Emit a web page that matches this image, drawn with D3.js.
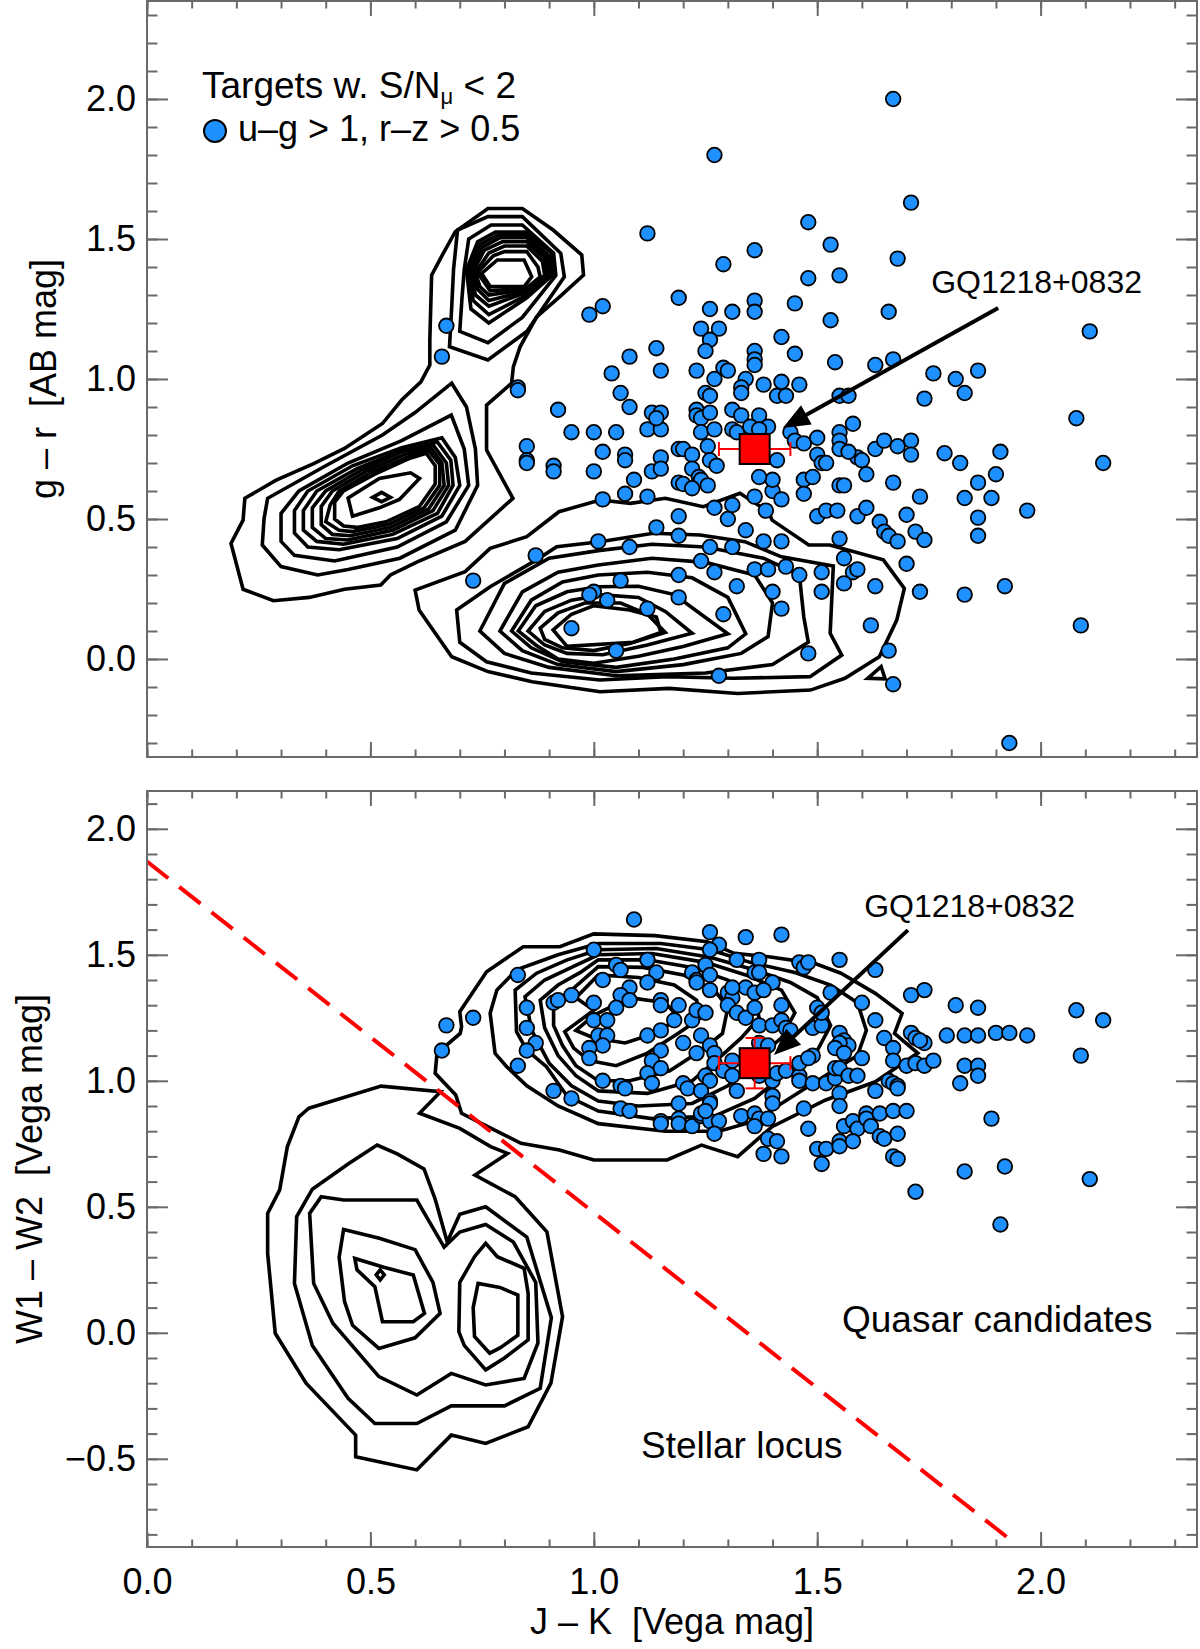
<!DOCTYPE html>
<html><head><meta charset="utf-8">
<script src="https://cdn.jsdelivr.net/npm/d3@7"></script>
<style>
body{margin:0;background:#fff;}
svg{display:block;}
text{font-family:"Liberation Sans",Arial,Helvetica,sans-serif;fill:#000;white-space:pre;}
</style>
</head><body>
<svg id="chart" width="1200" height="1649"></svg>
<script>
// ---------------- DATA ----------------
const xTickValues = [0, 0.5, 1.0, 1.5, 2.0];
const xTickLabels = ["0.0", "0.5", "1.0", "1.5", "2.0"];
const topYTickValues = [0, 0.5, 1.0, 1.5, 2.0];
const topYTickLabels = ["0.0", "0.5", "1.0", "1.5", "2.0"];
const botYTickValues = [-0.5, 0, 0.5, 1.0, 1.5, 2.0];
const botYTickLabels = ["\u22120.5", "0.0", "0.5", "1.0", "1.5", "2.0"];

const xTitle = "J \u2013 K \u00a0[Vega mag]";
const topYTitle = "g \u2013 r \u00a0[AB mag]";
const botYTitle = "W1 \u2013 W2 \u00a0[Vega mag]";
const legendTitle = ["Targets w. S/N", "\u03bc", " < 2"];
const legendLabel = "u\u2013g > 1, r\u2013z > 0.5";
const regionLabels = ["Quasar candidates", "Stellar locus"];

// target: [value, error]
const targetName = "GQ1218+0832";
const targetJK = [1.36, 0.08];
const targetGR = [0.75, 0.03];
const targetW12 = [1.07, 0.10];

// annotation arrows [tail, tip] in data units
const topArrow = [[1.905, 1.254], [1.423, 0.825]];
const botArrow = [[1.703, 1.598], [1.403, 1.102]];
const topLabelAt = [1.755, 1.307];
const botLabelAt = [1.605, 1.650];

// colour cut line in bottom panel
const cutLine = [[0, 1.87], [1.935, -0.825]];

// scatter points: J-K vs g-r
const topPoints = [
[1.67,2.00],[1.27,1.80],[1.71,1.63],[1.12,1.52],[1.48,1.56],[1.53,1.48],[1.36,1.46],[1.29,1.41],[1.68,1.43],[1.48,1.36],[1.55,1.37],[1.19,1.29],[1.26,1.25],[1.31,1.24],[1.36,1.28],[1.36,1.24],[1.45,1.27],[1.53,1.21],[1.66,1.24],[2.11,1.17],[1.02,1.26],[0.99,1.23],
[1.24,1.18],[1.28,1.18],[1.26,1.14],[1.25,1.10],[1.14,1.11],[1.08,1.08],[1.42,1.15],[1.36,1.10],[1.36,1.07],[1.36,1.05],[1.45,1.09],[1.04,1.02],[1.15,1.03],[1.23,1.03],[1.29,1.04],[1.30,1.03],[1.27,1.00],[1.34,1.00],[1.54,1.06],[1.63,1.05],[1.67,1.07],[1.76,1.02],[1.81,1.00],[1.86,1.03],[1.06,0.95],[1.25,0.95],[1.33,0.97],[1.33,0.95],[1.38,0.98],[1.42,0.99],[1.46,0.98],[1.41,0.94],[1.43,0.94],[1.26,0.94],[1.74,0.93],[1.83,0.95],[1.55,0.94],[1.57,0.94],
[0.67,1.19],[0.66,1.08],[0.83,0.97],[0.83,0.96],[0.92,0.89],[0.95,0.81],[1.00,0.81],[1.05,0.81],[0.85,0.76],[0.85,0.71],[0.85,0.70],[0.91,0.69],[0.91,0.67],[1.00,0.67],[1.02,0.74],[1.07,0.73],[1.07,0.71],[1.09,0.64],[1.02,0.57],[1.07,0.59],[1.12,0.58],[1.12,0.82],[1.14,0.87],[1.15,0.82],[1.15,0.72],[1.13,0.67],[1.15,0.68],[1.19,0.75],[1.19,0.63],[1.08,0.90],[1.13,0.88],[1.15,0.88],[1.14,0.86],
[0.87,0.37],[0.73,0.28],[1.01,0.42],[1.08,0.40],[1.14,0.47],[1.19,0.51],[1.19,0.44],[1.06,0.28],[1.00,0.24],[0.99,0.23],[1.03,0.21],[1.12,0.18],[0.95,0.11],[1.05,0.03],[1.19,0.30],[1.19,0.22],[1.24,0.35],[1.27,0.31],[1.32,0.26],[1.29,0.16],[1.28,-0.06],[1.31,0.40],[1.26,0.40],[1.30,0.50],[1.27,0.54],[1.31,0.55],[1.34,0.46],[1.38,0.42],[1.42,0.42],[1.36,0.32],[1.39,0.32],[1.43,0.33],[1.40,0.24],[1.42,0.18],[1.46,0.30],[1.51,0.31],[1.51,0.24],[1.48,0.02],[1.55,0.43],[1.56,0.36],[1.58,0.31],[1.56,0.27],[1.59,0.32],[1.63,0.26],[1.70,0.34],[1.73,0.24],[1.83,0.23],[1.92,0.26],[2.09,0.12],[1.62,0.12],[1.66,0.03],[1.67,-0.09],[1.93,-0.30],
[1.36,0.58],[1.40,0.60],[1.42,0.57],[1.385,0.53],[1.40,0.64],[1.37,0.65],[1.47,0.64],[1.49,0.65],[1.47,0.59],[1.50,0.51],[1.52,0.53],[1.545,0.53],[1.59,0.51],[1.61,0.54],[1.55,0.62],[1.56,0.62],[1.59,0.72],[1.60,0.71],[1.61,0.66],[1.63,0.75],[1.65,0.78],[1.68,0.76],[1.71,0.78],[1.71,0.73],[1.67,0.63],[1.64,0.49],[1.65,0.455],[1.66,0.44],[1.68,0.42],[1.70,0.515],[1.72,0.455],[1.74,0.425],[1.73,0.58],[1.785,0.735],[1.82,0.70],[1.83,0.575],[1.86,0.63],[1.86,0.505],[1.86,0.44],[1.91,0.74],[1.90,0.66],[1.89,0.575],[1.97,0.53],[2.08,0.86],[2.14,0.70],
[1.23,0.89],[1.23,0.87],[1.24,0.86],[1.26,0.88],[1.24,0.81],[1.27,0.82],[1.20,0.75],[1.22,0.73],[1.255,0.76],[1.26,0.71],[1.275,0.69],[1.22,0.68],[1.235,0.65],[1.24,0.64],[1.20,0.625],[1.22,0.61],[1.255,0.62],[1.31,0.89],[1.33,0.87],[1.31,0.82],[1.32,0.81],[1.37,0.87],[1.39,0.83],[1.35,0.83],[1.37,0.82],[1.41,0.71],[1.44,0.81],[1.45,0.78],[1.47,0.77],[1.50,0.79],[1.50,0.73],[1.51,0.70],[1.52,0.70],[1.55,0.81],[1.55,0.78],[1.55,0.75],[1.57,0.74],[1.58,0.84]
];

// scatter points: J-K vs W1-W2
const botPoints = [
[1.09,1.64],[0.67,1.22],[0.73,1.25],[0.66,1.12],[0.83,1.42],[1.00,1.52],
[0.85,1.29],[0.85,1.21],[0.87,1.15],[0.85,1.12],[0.83,1.06],
[0.91,1.31],[0.92,1.32],[0.95,1.34],[0.91,0.96],[0.95,0.93],
[1.00,1.31],[1.00,1.24],[1.03,1.24],[1.01,1.18],[1.03,1.18],[1.02,1.14],[0.99,1.13],[0.99,1.09],
[1.02,1.40],[1.05,1.46],[1.06,1.44],[1.08,1.37],[1.06,1.34],[1.08,1.32],[1.05,1.29],
[1.02,1.00],[1.06,0.98],[1.07,0.97],[1.06,0.89],[1.08,0.88],
[1.12,1.48],[1.14,1.43],[1.12,1.39],[1.15,1.32],[1.15,1.30],[1.19,1.30],[1.18,1.24],
[1.12,1.18],[1.15,1.20],[1.15,1.12],[1.13,1.08],[1.15,1.05],[1.12,1.03],[1.13,0.99],
[1.19,0.91],[1.20,0.99],[1.21,0.97],[1.15,0.84],[1.15,0.83],[1.19,0.85],[1.19,0.83],[1.22,0.82],[1.24,0.86],
[1.20,1.15],[1.22,1.43],[1.23,1.40],[1.23,1.11],
[1.26,1.59],[1.28,1.54],[1.26,1.52],[1.34,1.57],[1.42,1.58],[1.55,1.48],[1.63,1.44],
[1.46,1.47],[1.47,1.45],[1.48,1.47],[1.32,1.48],[1.37,1.48],[1.36,1.43],[1.37,1.43],[1.40,1.39],
[1.25,1.46],[1.23,1.39],[1.26,1.42],
[1.26,1.36],[1.30,1.35],[1.31,1.33],[1.34,1.37],[1.31,1.37],[1.36,1.35],[1.38,1.36],
[1.22,1.24],[1.23,1.28],[1.25,1.27],
[1.30,1.30],[1.32,1.27],[1.34,1.25],[1.36,1.29],[1.42,1.30],[1.37,1.22],[1.40,1.22],
[1.42,1.24],[1.43,1.21],[1.44,1.20],
[1.24,1.18],[1.26,1.14],[1.27,1.11],
[1.27,1.07],[1.29,1.04],[1.31,1.08],[1.31,1.02],[1.32,0.96],[1.25,1.02],[1.26,1.00],[1.24,0.96],[1.26,0.92],
[1.24,0.87],[1.26,0.91],[1.26,0.84],[1.28,0.84],[1.27,0.79],[1.25,0.88],
[1.33,0.86],[1.36,0.87],[1.37,0.85],[1.36,0.82],[1.39,0.85],
[1.39,0.77],[1.41,0.76],[1.38,0.71],[1.42,0.70],
[1.40,0.94],[1.40,0.91],[1.40,1.00],[1.37,1.02],
[1.37,1.15],[1.39,1.14],
[1.41,1.03],[1.43,1.04],[1.46,1.02],[1.46,1.00],
[1.46,1.07],[1.49,1.10],[1.48,1.09],
[1.49,1.21],[1.51,1.22],[1.50,1.29],[1.51,1.27],[1.53,1.35],
[1.47,0.89],[1.48,0.81],[1.50,0.73],[1.52,0.73],[1.51,0.67],
[1.49,0.99],[1.52,0.99],[1.54,1.01],[1.55,0.95],[1.55,0.90],
[1.56,0.82],[1.58,0.84],[1.59,0.81],[1.61,0.87],[1.61,0.85],[1.62,0.82],[1.64,0.87],[1.67,0.88],[1.70,0.88],
[1.64,0.78],[1.65,0.77],[1.68,0.79],[1.55,0.76],[1.55,0.74],[1.58,0.76],[1.67,0.70],[1.68,0.69],
[1.72,0.56],[1.83,0.64],[1.92,0.66],[2.11,0.61],[1.89,0.85],[1.91,0.43],
[1.82,0.99],[1.83,1.06],[1.86,1.06],[1.86,1.02],[2.09,1.10],[2.08,1.28],[2.14,1.24],
[1.79,1.18],[1.83,1.18],[1.86,1.18],[1.90,1.19],[1.93,1.19],[1.97,1.18],
[1.81,1.30],[1.86,1.29],[1.71,1.34],[1.74,1.36],[1.60,1.31],[1.63,1.24],
[1.65,1.17],[1.67,1.13],[1.67,1.08],[1.71,1.19],[1.72,1.17],[1.74,1.15],[1.73,1.16],
[1.70,1.06],[1.72,1.07],[1.74,1.06],[1.76,1.08],[1.60,1.09],
[1.55,1.19],[1.56,1.16],[1.57,1.14],[1.55,1.15],[1.54,1.13],[1.56,1.11],
[1.54,1.05],[1.55,1.05],[1.57,1.02],[1.59,1.02],
[1.66,1.00],[1.67,0.99],[1.68,0.98],[1.63,0.96],[1.68,0.97]
];

// density contours (closed rings) of the reference samples, top panel
const topContours = [
[[0.215,0.249],[0.188,0.413],[0.215,0.496],[0.219,0.574],[0.288,0.638],[0.373,0.698],[0.442,0.752],[0.527,0.841],[0.570,0.925],[0.613,0.99],[0.633,1.05],[0.633,1.139],[0.637,1.371],[0.663,1.449],[0.690,1.526],[0.763,1.609],[0.840,1.609],[0.909,1.532],[0.973,1.443],[0.977,1.371],[0.924,1.294],[0.872,1.222],[0.835,1.115],[0.820,1.044],[0.816,0.985],[0.760,0.907],[0.760,0.746],[0.819,0.574],[0.712,0.42],[0.605,0.347],[0.545,0.300],[0.523,0.264],[0.442,0.249],[0.363,0.220],[0.283,0.208]],
[[0.258,0.407],[0.262,0.502],[0.270,0.574],[0.40,0.69],[0.527,0.80],[0.60,0.88],[0.682,0.985],[0.715,0.90],[0.735,0.75],[0.740,0.62],[0.69,0.46],[0.566,0.36],[0.45,0.32],[0.382,0.30],[0.30,0.33]],
[[0.30,0.42],[0.30,0.52],[0.34,0.60],[0.45,0.70],[0.57,0.78],[0.681,0.871],[0.71,0.75],[0.72,0.62],[0.67,0.49],[0.56,0.40],[0.42,0.35],[0.33,0.37]],
[[0.33,0.45],[0.33,0.53],[0.36,0.60],[0.46,0.69],[0.57,0.755],[0.66,0.79],[0.69,0.72],[0.70,0.62],[0.66,0.51],[0.56,0.43],[0.43,0.39],[0.36,0.40]],
[[0.35,0.46],[0.35,0.53],[0.38,0.60],[0.47,0.68],[0.57,0.745],[0.65,0.775],[0.68,0.71],[0.685,0.62],[0.65,0.52],[0.55,0.445],[0.44,0.41],[0.38,0.42]],
[[0.37,0.47],[0.37,0.54],[0.40,0.60],[0.48,0.675],[0.57,0.74],[0.64,0.765],[0.67,0.70],[0.675,0.62],[0.64,0.53],[0.55,0.46],[0.45,0.425],[0.40,0.43]],
[[0.39,0.48],[0.39,0.545],[0.415,0.60],[0.49,0.67],[0.575,0.73],[0.635,0.755],[0.66,0.70],[0.665,0.62],[0.63,0.535],[0.545,0.47],[0.455,0.44],[0.415,0.445]],
[[0.40,0.49],[0.41,0.55],[0.43,0.60],[0.50,0.665],[0.58,0.72],[0.63,0.745],[0.655,0.695],[0.655,0.62],[0.62,0.54],[0.54,0.48],[0.46,0.455],[0.43,0.46]],
[[0.42,0.50],[0.42,0.56],[0.44,0.60],[0.51,0.66],[0.585,0.715],[0.625,0.735],[0.645,0.69],[0.645,0.625],[0.61,0.545],[0.535,0.49],[0.47,0.47],[0.44,0.475]],
[[0.45,0.575],[0.52,0.645],[0.59,0.665],[0.61,0.645],[0.565,0.57],[0.52,0.54],[0.46,0.51]],
[[0.505,0.577],[0.525,0.595],[0.545,0.577],[0.525,0.562]],
[[0.686,1.39],[0.695,1.532],[0.763,1.580],[0.840,1.580],[0.926,1.449],[0.934,1.365],[0.85,1.17],[0.763,1.068],[0.677,1.115],[0.682,1.258]],
[[0.71,1.39],[0.72,1.50],[0.77,1.55],[0.84,1.55],[0.91,1.45],[0.915,1.37],[0.84,1.22],[0.763,1.13],[0.70,1.17],[0.705,1.29]],
[[0.715,1.39],[0.74,1.49],[0.78,1.525],[0.85,1.525],[0.905,1.45],[0.91,1.375],[0.85,1.29],[0.765,1.20],[0.725,1.25]],
[[0.72,1.39],[0.745,1.48],[0.785,1.515],[0.85,1.515],[0.90,1.44],[0.905,1.375],[0.85,1.30],[0.765,1.23],[0.73,1.28]],
[[0.725,1.39],[0.75,1.47],[0.79,1.505],[0.85,1.505],[0.895,1.435],[0.90,1.375],[0.85,1.31],[0.765,1.26],[0.735,1.30]],
[[0.73,1.385],[0.755,1.46],[0.795,1.49],[0.85,1.49],[0.89,1.43],[0.895,1.375],[0.85,1.315],[0.765,1.28],[0.74,1.32]],
[[0.735,1.38],[0.765,1.45],[0.80,1.475],[0.85,1.475],[0.885,1.42],[0.89,1.37],[0.85,1.32],[0.765,1.30],[0.745,1.33]],
[[0.74,1.38],[0.775,1.44],[0.80,1.455],[0.85,1.455],[0.875,1.40],[0.88,1.365],[0.85,1.325],[0.768,1.315]],
[[0.749,1.377],[0.784,1.425],[0.844,1.425],[0.861,1.365],[0.844,1.330],[0.768,1.330]],
[[0.600,0.246],[0.609,0.175],[0.682,0.008],[0.763,-0.045],[0.862,-0.081],[1.014,-0.117],[1.168,-0.105],[1.322,-0.123],[1.485,-0.111],[1.562,-0.069],[1.639,0.008],[1.678,0.139],[1.695,0.252],[1.648,0.354],[1.528,0.407],[1.481,0.407],[1.399,0.496],[1.391,0.526],[1.327,0.592],[1.245,0.544],[1.160,0.574],[1.082,0.556],[1.014,0.568],[0.922,0.526],[0.850,0.437],[0.768,0.395],[0.712,0.312]],
[[0.693,0.175],[0.768,0.258],[0.872,0.354],[0.917,0.401],[1.014,0.419],[1.133,0.449],[1.238,0.443],[1.338,0.419],[1.420,0.365],[1.536,0.332],[1.529,0.092],[1.555,0.014],[1.484,-0.063],[1.312,-0.069],[1.163,-0.063],[1.014,-0.075],[0.86,-0.05],[0.76,-0.01],[0.70,0.06]],
[[0.745,0.10],[0.80,0.27],[0.90,0.36],[1.01,0.387],[1.13,0.41],[1.25,0.40],[1.38,0.36],[1.46,0.30],[1.47,0.15],[1.48,0.06],[1.40,-0.02],[1.25,-0.05],[1.05,-0.06],[0.90,-0.03],[0.80,0.02]],
[[0.790,0.10],[0.84,0.24],[0.92,0.31],[1.01,0.336],[1.13,0.36],[1.25,0.345],[1.36,0.30],[1.40,0.20],[1.39,0.08],[1.33,0.02],[1.20,-0.02],[1.05,-0.045],[0.92,-0.02],[0.84,0.03]],
[[0.816,0.10],[0.86,0.21],[0.93,0.275],[1.01,0.300],[1.12,0.31],[1.22,0.29],[1.30,0.22],[1.34,0.09],[1.30,0.04],[1.18,0.0],[1.05,-0.03],[0.93,-0.01],[0.86,0.04]],
[[0.831,0.10],[0.87,0.19],[0.94,0.24],[1.01,0.258],[1.10,0.26],[1.18,0.23],[1.24,0.16],[1.30,0.09],[1.20,0.045],[1.10,0.01],[1.00,-0.015],[0.92,0.0],[0.87,0.05]],
[[0.853,0.10],[0.89,0.17],[0.95,0.21],[1.02,0.229],[1.10,0.22],[1.16,0.17],[1.22,0.092],[1.12,0.05],[1.02,0.015],[0.94,0.02],[0.89,0.05]],
[[0.880,0.11],[0.92,0.165],[0.98,0.20],[1.06,0.20],[1.12,0.16],[1.16,0.095],[1.08,0.055],[1.00,0.03],[0.93,0.04],[0.89,0.07]],
[[0.909,0.104],[0.95,0.16],[0.999,0.19],[1.08,0.175],[1.14,0.15],[1.15,0.095],[1.088,0.06],[0.94,0.045]],
[[1.613,-0.069],[1.643,-0.027],[1.652,-0.071]]
];

// density contours, bottom panel
const botContours = [
[[0.645,1.030],[0.649,1.109],[0.701,1.188],[0.704,1.215],[0.700,1.274],[0.760,1.433],[0.842,1.532],[0.924,1.532],[1.000,1.583],[1.137,1.576],[1.254,1.552],[1.314,1.506],[1.391,1.492],[1.494,1.466],[1.553,1.427],[1.630,1.347],[1.690,1.268],[1.673,1.188],[1.725,1.11],[1.630,0.996],[1.519,0.924],[1.399,0.818],[1.322,0.699],[1.241,0.745],[1.164,0.686],[1.000,0.686],[0.923,0.725],[0.837,0.752],[0.777,0.805],[0.704,0.871],[0.691,0.944]],
[[0.779,1.109],[0.768,1.268],[0.783,1.360],[0.827,1.440],[0.92,1.50],[1.01,1.545],[1.15,1.545],[1.26,1.52],[1.35,1.47],[1.45,1.43],[1.53,1.38],[1.59,1.31],[1.61,1.20],[1.59,1.10],[1.50,1.00],[1.42,0.91],[1.36,0.84],[1.28,0.80],[1.16,0.80],[1.01,0.83],[0.92,0.90],[0.85,0.98],[0.805,1.056]],
[[0.827,1.195],[0.824,1.360],[0.872,1.427],[0.939,1.479],[1.01,1.52],[1.14,1.525],[1.26,1.49],[1.36,1.44],[1.44,1.39],[1.50,1.33],[1.53,1.22],[1.50,1.12],[1.43,1.03],[1.36,0.93],[1.27,0.86],[1.13,0.85],[1.01,0.88],[0.94,0.94],[0.894,1.056],[0.850,1.122]],
[[0.861,1.20],[0.846,1.334],[0.89,1.40],[0.95,1.45],[1.01,1.50],[1.13,1.505],[1.25,1.47],[1.34,1.42],[1.42,1.36],[1.45,1.27],[1.42,1.17],[1.36,1.08],[1.30,0.98],[1.22,0.91],[1.10,0.90],[1.01,0.92],[0.95,0.98],[0.90,1.07]],
[[0.89,1.21],[0.88,1.32],[0.92,1.38],[0.97,1.43],[1.01,1.48],[1.12,1.48],[1.22,1.45],[1.30,1.40],[1.36,1.33],[1.37,1.25],[1.33,1.17],[1.28,1.09],[1.22,1.00],[1.12,0.95],[1.01,0.96],[0.96,1.02],[0.92,1.10]],
[[0.91,1.22],[0.91,1.31],[0.95,1.36],[1.01,1.453],[1.11,1.45],[1.20,1.42],[1.27,1.36],[1.30,1.29],[1.288,1.188],[1.24,1.12],[1.17,1.04],[1.08,1.00],[1.01,1.00],[0.96,1.06],[0.93,1.14]],
[[0.935,1.195],[1.00,1.28],[0.96,1.33],[1.01,1.42],[1.10,1.41],[1.18,1.38],[1.23,1.32],[1.24,1.25],[1.19,1.19],[1.12,1.11],[1.05,1.06],[0.99,1.08],[0.955,1.13]],
[[0.96,1.20],[1.00,1.26],[1.08,1.33],[1.16,1.31],[1.19,1.25],[1.14,1.19],[1.07,1.15],[1.00,1.17]],
[[0.362,0.891],[0.524,0.979],[0.657,0.957],[0.610,0.871],[0.700,0.811],[0.769,0.739],[0.807,0.712],[0.734,0.626],[0.824,0.540],[0.895,0.401],[0.930,0.064],[0.904,-0.200],[0.853,-0.373],[0.758,-0.439],[0.681,-0.406],[0.604,-0.544],[0.467,-0.492],[0.467,-0.406],[0.356,-0.200],[0.287,-0.002],[0.270,0.315],[0.270,0.474],[0.297,0.567],[0.314,0.738],[0.340,0.857]],
[[0.33,0.196],[0.335,0.461],[0.37,0.57],[0.45,0.67],[0.515,0.745],[0.56,0.71],[0.62,0.65],[0.645,0.53],[0.672,0.36],[0.70,0.47],[0.758,0.50],[0.85,0.38],[0.905,0.06],[0.88,-0.22],[0.80,-0.29],[0.74,-0.29],[0.681,-0.29],[0.604,-0.36],[0.51,-0.36],[0.45,-0.26],[0.37,-0.05]],
[[0.390,0.540],[0.44,0.527],[0.52,0.527],[0.604,0.527],[0.621,0.474],[0.665,0.34],[0.70,0.40],[0.758,0.43],[0.82,0.36],[0.87,0.20],[0.875,-0.04],[0.844,-0.181],[0.758,-0.207],[0.681,-0.161],[0.604,-0.247],[0.519,-0.174],[0.416,0.038],[0.373,0.196],[0.364,0.474]],
[[0.43,0.30],[0.44,0.41],[0.52,0.375],[0.60,0.33],[0.64,0.20],[0.656,0.077],[0.60,-0.02],[0.519,-0.062],[0.46,0.03],[0.442,0.125]],
[[0.47,0.25],[0.465,0.295],[0.53,0.26],[0.596,0.229],[0.621,0.077],[0.596,0.044],[0.527,0.044],[0.510,0.183]],
[[0.513,0.23],[0.522,0.25],[0.531,0.23],[0.522,0.21]],
[[0.70,0.20],[0.733,0.302],[0.758,0.355],[0.784,0.302],[0.844,0.256],[0.853,0.157],[0.853,-0.028],[0.80,-0.10],[0.758,-0.147],[0.71,-0.05],[0.698,0.004]],
[[0.73,0.10],[0.741,0.196],[0.79,0.18],[0.830,0.15],[0.830,-0.01],[0.79,-0.06],[0.767,-0.081],[0.733,-0.015]]
];

// ---------------- LAYOUT ----------------
const svg = d3.select("#chart");
const L = 147, R = 1197;
const topP = {t: 1, b: 757};
const botP = {t: 791, b: 1547};
const x = d3.scaleLinear().domain([0, 2.35]).range([L, R]);
const yT = d3.scaleLinear().domain([-0.35, 2.35]).range([topP.b, topP.t]);
const yB = d3.scaleLinear().domain([-0.85, 2.15]).range([botP.b, botP.t]);

const AX = "#6a6a6a";
const FS = 36;
const blue = "#1e90ff";

const defs = svg.append("defs");
defs.append("clipPath").attr("id", "clipT").append("rect")
  .attr("x", L).attr("y", topP.t).attr("width", R - L).attr("height", topP.b - topP.t);
defs.append("clipPath").attr("id", "clipB").append("rect")
  .attr("x", L).attr("y", botP.t).attr("width", R - L).attr("height", botP.b - botP.t);

function minorRange(a, b) { // tick positions every 0.1
  const out = [];
  for (let i = Math.round(a * 10); i <= Math.round(b * 10); i++) out.push(i / 10);
  return out;
}

function styleAxis(g) {
  g.select(".domain").remove();
  g.selectAll(".tick line").attr("stroke", AX).attr("stroke-width", 2);
  g.selectAll(".tick text").attr("font-size", FS).attr("fill", "#000")
    .attr("font-family", '"Liberation Sans", Arial, Helvetica, sans-serif');
}

function drawAxes(p, yScale, yVals, yLabs, yMin, yMax, withXLabels) {
  const g = svg.append("g");
  const xMinor = minorRange(0, 2.3);
  const yMinor = minorRange(yMin, yMax);
  g.append("g").attr("transform", `translate(0,${p.b})`)
    .call(d3.axisBottom(x).tickValues(xMinor).tickSize(-7.5).tickFormat("")).call(styleAxis);
  g.append("g").attr("transform", `translate(0,${p.b})`)
    .call(d3.axisBottom(x).tickValues(xTickValues).tickSize(-15).tickPadding(21)
      .tickFormat((d, i) => withXLabels ? xTickLabels[i] : "")).call(styleAxis);
  g.append("g").attr("transform", `translate(0,${p.t})`)
    .call(d3.axisTop(x).tickValues(xMinor).tickSize(-7.5).tickFormat("")).call(styleAxis);
  g.append("g").attr("transform", `translate(0,${p.t})`)
    .call(d3.axisTop(x).tickValues(xTickValues).tickSize(-15).tickFormat("")).call(styleAxis);
  g.append("g").attr("transform", `translate(${L},0)`)
    .call(d3.axisLeft(yScale).tickValues(yMinor).tickSize(-10.5).tickFormat("")).call(styleAxis);
  g.append("g").attr("transform", `translate(${L},0)`)
    .call(d3.axisLeft(yScale).tickValues(yVals).tickSize(-21).tickPadding(11)
      .tickFormat((d, i) => yLabs[i])).call(styleAxis);
  g.append("g").attr("transform", `translate(${R},0)`)
    .call(d3.axisRight(yScale).tickValues(yMinor).tickSize(-10.5).tickFormat("")).call(styleAxis);
  g.append("g").attr("transform", `translate(${R},0)`)
    .call(d3.axisRight(yScale).tickValues(yVals).tickSize(-21).tickFormat("")).call(styleAxis);
  g.append("rect").attr("x", L).attr("y", p.t).attr("width", R - L).attr("height", p.b - p.t)
    .attr("fill", "none").attr("stroke", AX).attr("stroke-width", 2);
}

const ring = (xs, ys) => d3.line().x(d => xs(d[0])).y(d => ys(d[1])).curve(d3.curveLinearClosed);

function drawContours(rings, ys, clip) {
  svg.append("g").attr("clip-path", `url(#${clip})`)
    .selectAll("path").data(rings).join("path")
    .attr("d", ring(x, ys)).attr("fill", "none").attr("stroke", "#000")
    .attr("stroke-width", 3.6).attr("stroke-linejoin", "miter");
}

function drawPoints(pts, ys, clip) {
  svg.append("g").attr("clip-path", `url(#${clip})`)
    .selectAll("circle").data(pts).join("circle")
    .attr("cx", d => x(d[0])).attr("cy", d => ys(d[1])).attr("r", 7.3)
    .attr("fill", blue).attr("stroke", "#000").attr("stroke-width", 1.8);
}

function drawTarget(ys, yv) {
  const g = svg.append("g");
  const cx = x(targetJK[0]), cy = ys(yv[0]);
  const x0 = x(targetJK[0] - targetJK[1]), x1 = x(targetJK[0] + targetJK[1]);
  const y0 = ys(yv[0] - yv[1]), y1 = ys(yv[0] + yv[1]);
  const cap = 7;
  const red = "#ff0000";
  g.append("line").attr("x1", x0).attr("x2", x1).attr("y1", cy).attr("y2", cy).attr("stroke", red).attr("stroke-width", 2);
  g.append("line").attr("x1", x0).attr("x2", x0).attr("y1", cy - cap).attr("y2", cy + cap).attr("stroke", red).attr("stroke-width", 2);
  g.append("line").attr("x1", x1).attr("x2", x1).attr("y1", cy - cap).attr("y2", cy + cap).attr("stroke", red).attr("stroke-width", 2);
  g.append("line").attr("x1", cx).attr("x2", cx).attr("y1", y0).attr("y2", y1).attr("stroke", red).attr("stroke-width", 2);
  g.append("line").attr("x1", cx - cap * 1.3).attr("x2", cx + cap * 1.3).attr("y1", y0).attr("y2", y0).attr("stroke", red).attr("stroke-width", 2);
  g.append("line").attr("x1", cx - cap * 1.3).attr("x2", cx + cap * 1.3).attr("y1", y1).attr("y2", y1).attr("stroke", red).attr("stroke-width", 2);
  g.append("rect").attr("x", cx - 15).attr("y", cy - 15).attr("width", 30).attr("height", 30)
    .attr("fill", red).attr("stroke", "#000").attr("stroke-width", 2);
}

function drawArrow(arr, ys, labelAt) {
  const g = svg.append("g");
  const tx = x(arr[0][0]), ty = ys(arr[0][1]);
  const hx = x(arr[1][0]), hy = ys(arr[1][1]);
  const dx = hx - tx, dy = hy - ty, len = Math.hypot(dx, dy);
  const ux = dx / len, uy = dy / len;
  const hl = 27, hw = 11;
  const bx = hx - ux * hl, by = hy - uy * hl;
  g.append("line").attr("x1", tx).attr("y1", ty).attr("x2", bx + ux * 2).attr("y2", by + uy * 2)
    .attr("stroke", "#000").attr("stroke-width", 4);
  g.append("polygon").attr("points",
    [[hx, hy], [bx - uy * hw, by + ux * hw], [bx + uy * hw, by - ux * hw]].map(p => p.join(",")).join(" "))
    .attr("fill", "#000");
  g.append("text").attr("x", x(labelAt[0])).attr("y", ys(labelAt[1]))
    .attr("font-size", 32).text(targetName);
}

// ---------------- TOP PANEL ----------------
drawContours(topContours, yT, "clipT");
drawPoints(topPoints, yT, "clipT");
drawTarget(yT, targetGR);
drawArrow(topArrow, yT, topLabelAt);
drawAxes(topP, yT, topYTickValues, topYTickLabels, -0.3, 2.3, false);

// legend
const lg = svg.append("g");
const lt = lg.append("text").attr("x", 202).attr("y", 98).attr("font-size", 37);
lt.append("tspan").text(legendTitle[0]);
lt.append("tspan").attr("font-size", 22).attr("dy", 6).text(legendTitle[1]);
lt.append("tspan").attr("dy", -6).text(legendTitle[2]);
lg.append("circle").attr("cx", 215).attr("cy", 131).attr("r", 11)
  .attr("fill", blue).attr("stroke", "#000").attr("stroke-width", 2);
lg.append("text").attr("x", 238).attr("y", 141).attr("font-size", 36).text(legendLabel);

svg.append("text").attr("transform", `translate(56,${(topP.t + topP.b) / 2}) rotate(-90)`)
  .attr("text-anchor", "middle").attr("font-size", FS).text(topYTitle);

// ---------------- BOTTOM PANEL ----------------
drawContours(botContours, yB, "clipB");
drawPoints(botPoints, yB, "clipB");
svg.append("path").attr("d", d3.line().x(d => x(d[0])).y(d => yB(d[1]))(cutLine))
  .attr("fill", "none").attr("stroke", "#ff0000").attr("stroke-width", 4)
  .attr("stroke-dasharray", "27,14").attr("clip-path", "url(#clipB)");
drawTarget(yB, targetW12);
drawArrow(botArrow, yB, botLabelAt);
drawAxes(botP, yB, botYTickValues, botYTickLabels, -0.8, 2.1, true);

svg.append("text").attr("x", 842).attr("y", 1332).attr("font-size", 37).text(regionLabels[0]);
svg.append("text").attr("x", 641).attr("y", 1458).attr("font-size", 37).text(regionLabels[1]);

svg.append("text").attr("transform", `translate(42,${(botP.t + botP.b) / 2}) rotate(-90)`)
  .attr("text-anchor", "middle").attr("font-size", FS).text(botYTitle);

svg.append("text").attr("x", (L + R) / 2).attr("y", 1634).attr("text-anchor", "middle")
  .attr("font-size", FS).text(xTitle);
</script>
</body></html>
